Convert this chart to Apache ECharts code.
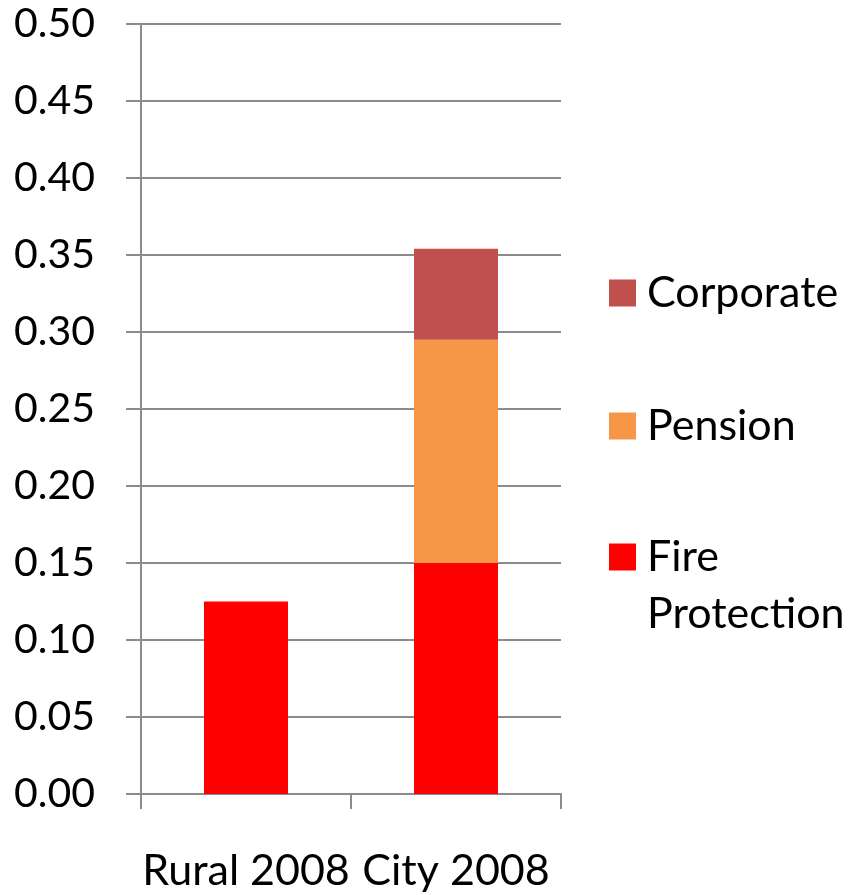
<!DOCTYPE html>
<html>
<head>
<meta charset="utf-8">
<script src="https://cdn.jsdelivr.net/npm/echarts@6/dist/echarts.min.js"></script>
<style>
  html, body { margin: 0; padding: 0; background: #fff; }
  #chart { width: 853px; height: 895px; }
</style>
</head>
<body>
<div id="chart"></div>
<script>
// chart data
var categories = ['Rural 2008', 'City 2008'];
var fireProtection = [0.125, 0.15];
var pension = [null, 0.145];
var corporate = [null, 0.059];

var FONT = 'Lato';
var AXIS_GRAY = '#8c8c8c';

var chart = echarts.init(document.getElementById('chart'), null, { renderer: 'canvas' });

chart.setOption({
  animation: false,
  textStyle: { fontFamily: FONT },
  grid: { left: 141, right: 292, top: 24, bottom: 101, containLabel: false },
  legend: [
    {
      data: ['Corporate', 'Pension'],
      orient: 'vertical',
      left: 609,
      top: 264.5,
      padding: 0,
      itemWidth: 27,
      itemHeight: 27,
      itemGap: 76,
      icon: 'rect',
      selectedMode: false,
      textStyle: { fontFamily: FONT, fontSize: 43, color: '#000', lineHeight: 57, padding: [0, 0, 0, 6] }
    },
    {
      // two-line entry: a blank first line keeps "Fire" level with the swatch
      data: ['Fire Protection'],
      orient: 'vertical',
      left: 609,
      top: 471.5,
      padding: 0,
      itemWidth: 27,
      itemHeight: 27,
      icon: 'rect',
      selectedMode: false,
      formatter: function (name) { return '\n' + name.replace(' ', '\n'); },
      textStyle: { fontFamily: FONT, fontSize: 43, color: '#000', lineHeight: 57, padding: [0, 0, 0, 6] }
    }
  ],
  xAxis: {
    type: 'category',
    data: categories,
    axisLine: { lineStyle: { color: AXIS_GRAY, width: 2 } },
    axisTick: { show: true, length: 15, lineStyle: { color: AXIS_GRAY, width: 2 } },
    axisLabel: { interval: 0, fontFamily: FONT, fontSize: 43, color: '#000', margin: 56 }
  },
  yAxis: {
    type: 'value',
    min: 0,
    max: 0.5,
    interval: 0.05,
    axisLine: { show: true, lineStyle: { color: AXIS_GRAY, width: 2 } },
    axisTick: { show: true, length: 15, lineStyle: { color: AXIS_GRAY, width: 2 } },
    axisLabel: {
      fontFamily: FONT, fontSize: 41, color: '#000', margin: 46,
      formatter: function (v) { return v.toFixed(2); }
    },
    splitLine: { lineStyle: { color: AXIS_GRAY, width: 2 } }
  },
  series: [
    {
      name: 'Fire Protection', type: 'bar', stack: 'total', barWidth: '40%',
      itemStyle: { color: '#FF0000' }, data: fireProtection
    },
    {
      name: 'Pension', type: 'bar', stack: 'total',
      itemStyle: { color: '#F79646' }, data: pension
    },
    {
      name: 'Corporate', type: 'bar', stack: 'total',
      itemStyle: { color: '#C0504D' }, data: corporate
    }
  ]
});
</script>
</body>
</html>
